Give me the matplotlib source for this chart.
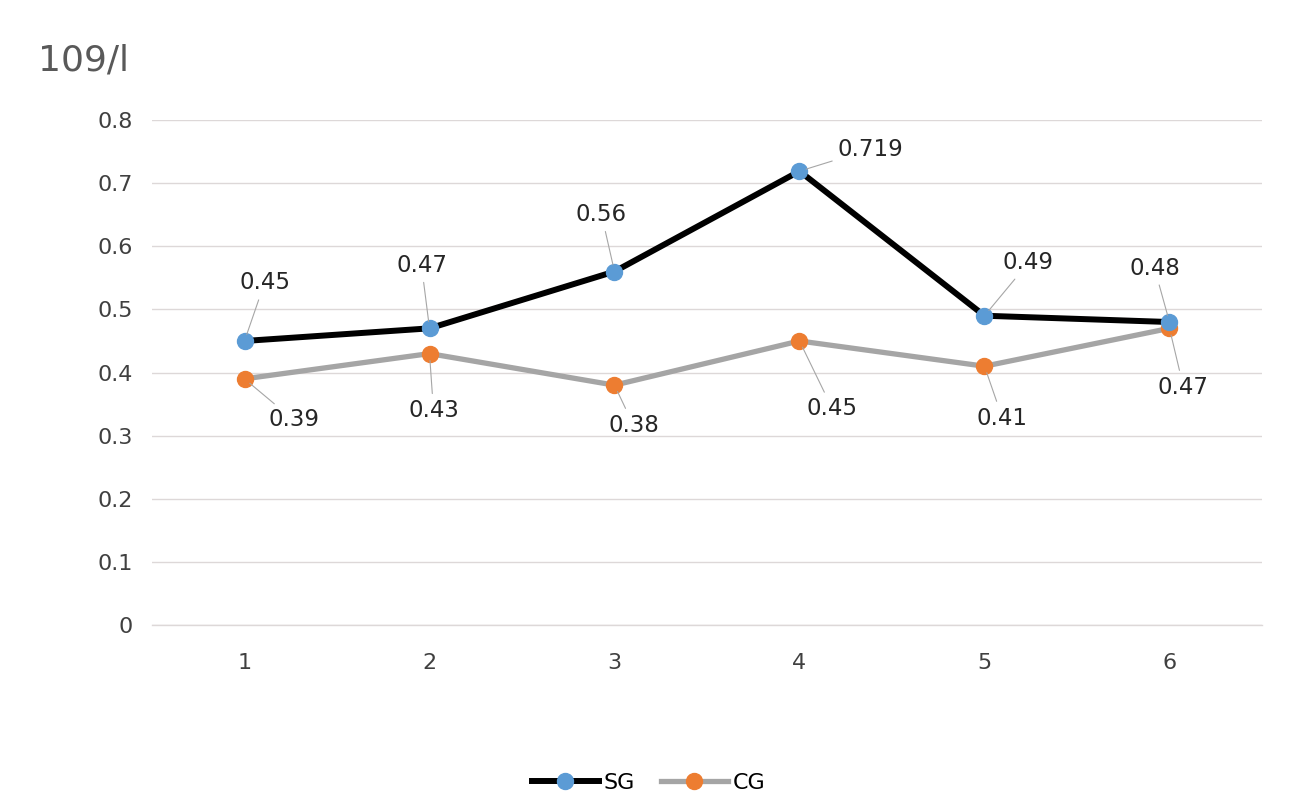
import matplotlib.pyplot as plt

plt.rcParams['font.family'] = ['DejaVu Sans']

# data
days = [1, 2, 3, 4, 5, 6]
sg_values = [0.45, 0.47, 0.56, 0.719, 0.49, 0.48]
cg_values = [0.39, 0.43, 0.38, 0.45, 0.41, 0.47]
sg_labels = ['0.45', '0.47', '0.56', '0.719', '0.49', '0.48']
cg_labels = ['0.39', '0.43', '0.38', '0.45', '0.41', '0.47']
y_ticks = [0, 0.1, 0.2, 0.3, 0.4, 0.5, 0.6, 0.7, 0.8]
y_ticklabels = ['0', '0.1', '0.2', '0.3', '0.4', '0.5', '0.6', '0.7', '0.8']

# label offsets in pixels (dx, dy), dy positive = up
sg_offsets = [(20, 58), (-8, 63), (-13, 57), (71, 22), (44, 53), (-15, 54)]
cg_offsets = [(49, -41), (4, -57), (19, -40), (33, -68), (18, -52), (14, -59)]

fig = plt.figure(figsize=(12.97, 8.11), dpi=100)
ax = fig.add_axes([0.1172, 0.2293, 0.973 - 0.1172, 0.852 - 0.2293])

ax.plot(days, sg_values, color='black', lw=4.3, marker='o', ms=11.5,
        mfc='#5B9BD5', mec='#5B9BD5', label='SG', zorder=4)
ax.plot(days, cg_values, color='#A5A5A5', lw=3.8, marker='o', ms=11.5,
        mfc='#ED7D31', mec='#ED7D31', label='CG', zorder=3)

px = 0.72  # points per pixel at dpi 100
for x, y, lab, (dx, dy) in zip(days, sg_values, sg_labels, sg_offsets):
    ax.annotate(lab, (x, y), xytext=(dx * px, dy * px), textcoords='offset points',
                ha='center', va='center', fontsize=16.5, color='#262626',
                arrowprops=dict(arrowstyle='-', color='#A6A6A6', lw=0.8,
                                shrinkA=2, shrinkB=5), zorder=5)
for x, y, lab, (dx, dy) in zip(days, cg_values, cg_labels, cg_offsets):
    ax.annotate(lab, (x, y), xytext=(dx * px, dy * px), textcoords='offset points',
                ha='center', va='center', fontsize=16.5, color='#262626',
                arrowprops=dict(arrowstyle='-', color='#A6A6A6', lw=0.8,
                                shrinkA=2, shrinkB=5), zorder=5)

ax.set_xlim(0.5, 6.5)
ax.set_ylim(0, 0.8)
ax.set_xticks(days)
ax.set_xticklabels([str(d) for d in days])
ax.set_yticks(y_ticks)
ax.set_yticklabels(y_ticklabels)
ax.tick_params(length=0, labelsize=16, colors='#404040', pad=14)
ax.tick_params(axis='x', pad=20)
ax.grid(axis='y', color='#DDD8D8', lw=1)
ax.axhline(0, color='#DDD8D8', lw=1, clip_on=False, zorder=0)
ax.set_axisbelow(True)
for s in ax.spines.values():
    s.set_visible(False)

fig.text(38 / 1297, 1 - 60 / 811, '109/l', fontsize=26, color='#595959',
         ha='left', va='center')

fig.legend(loc='center', bbox_to_anchor=(0.5, 1 - 783 / 811), ncol=2,
           frameon=False, fontsize=16, handlelength=3.0, columnspacing=1.2,
           handletextpad=0.2)

fig.savefig('out.png', dpi=100)
